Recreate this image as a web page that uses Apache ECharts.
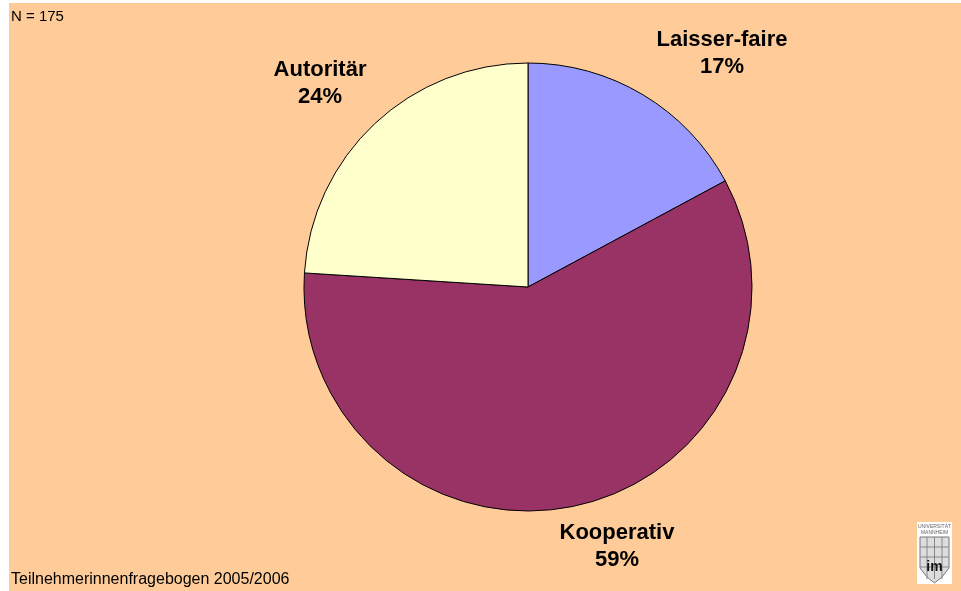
<!DOCTYPE html>
<html><head><meta charset="utf-8">
<script src="https://cdn.jsdelivr.net/npm/echarts@6/dist/echarts.min.js"></script>
<style>html,body{margin:0;padding:0;background:#fff}#c{width:961px;height:591px}</style>
</head><body><div id="c"></div>
<script>
const categories = ['Laisser-faire', 'Kooperativ', 'Autoritär'];
const counts = [30, 103, 42];
const percentLabels = ['17%', '59%', '24%'];
const colors = ['#9999FF', '#993366', '#FFFFCC'];
const labelSpots = [[722, 53], [617, 546], [320, 83]];

const chart = echarts.init(document.getElementById('c'), null, {renderer: 'canvas'});
const font = '"Liberation Sans", Arial, sans-serif';

const logoLines = [];
[25, 35, 45].forEach(y => logoLines.push({type: 'line', shape: {x1: 3, y1: y, x2: 32, y2: y}, style: {stroke: '#888', lineWidth: 1}}));
[10, 17.5, 25].forEach(x => logoLines.push({type: 'line', shape: {x1: x, y1: 15, x2: x, y2: 57}, style: {stroke: '#888', lineWidth: 1}}));

chart.setOption({
  animation: false,
  backgroundColor: '#ffffff',
  graphic: [
    {type: 'rect', x: 9, y: 3, shape: {x: 0, y: 0, width: 952, height: 588}, style: {fill: '#FFCC99'}, z: -10, silent: true},
    {type: 'text', x: 11, y: 9, style: {text: 'N = 175', font: '15px ' + font, fill: '#000'}},
    {type: 'text', x: 11, y: 572, style: {text: 'Teilnehmerinnenfragebogen 2005/2006', font: '16px ' + font, fill: '#000'}},
    {type: 'group', x: 917, y: 522, children: [
      {type: 'rect', shape: {x: 0, y: 0, width: 35, height: 62}, style: {fill: '#fff'}},
      {type: 'text', style: {x: 17.5, y: 2, text: 'UNIVERSITÄT', font: '5px ' + font, fill: '#666', align: 'center'}},
      {type: 'text', style: {x: 17.5, y: 8, text: 'MANNHEIM', font: '5px ' + font, fill: '#666', align: 'center'}},
      {type: 'polygon', shape: {points: [[3, 15], [32, 15], [32, 46], [25, 55], [17.5, 61], [10, 55], [3, 46]]}, style: {fill: '#ddd', stroke: '#777', lineWidth: 1}},
      ...logoLines,
      {type: 'text', style: {x: 17.5, y: 38, text: 'im', font: 'bold 14px ' + font, fill: '#111', align: 'center'}}
    ]}
  ],
  series: [{
    type: 'pie',
    center: [528, 287],
    radius: 224,
    startAngle: 90,
    clockwise: true,
    data: categories.map((c, i) => ({name: c, value: counts[i], itemStyle: {color: colors[i]}})),
    itemStyle: {borderColor: '#000', borderWidth: 1},
    label: {
      show: true,
      position: 'outside',
      formatter: p => p.name + '\n' + percentLabels[p.dataIndex],
      fontFamily: font,
      fontWeight: 'bold',
      fontSize: 22,
      color: '#000',
      lineHeight: 27,
      align: 'center'
    },
    labelLine: {show: false},
    labelLayout: p => ({x: labelSpots[p.dataIndex][0], y: labelSpots[p.dataIndex][1], align: 'center', verticalAlign: 'middle'}),
    emphasis: {disabled: true}
  }]
});
</script></body></html>
